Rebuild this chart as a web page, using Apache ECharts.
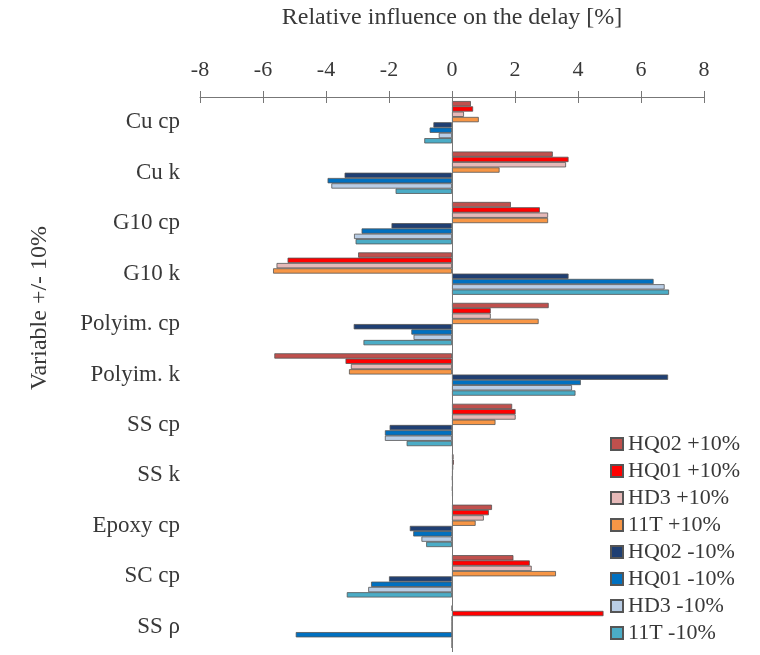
<!DOCTYPE html>
<html>
<head>
<meta charset="utf-8">
<script src="https://cdn.jsdelivr.net/npm/echarts@6/dist/echarts.min.js"></script>
<style>html,body{margin:0;padding:0;background:#fff;}#chart{width:760px;height:655px;}</style>
</head>
<body>
<div id="chart"></div>
<script>
const categories = ['Cu cp','Cu k','G10 cp','G10 k','Polyim. cp','Polyim. k','SS cp','SS k','Epoxy cp','SC cp','SS \u03c1'];
const xTicks = [-8, -6, -4, -2, 0, 2, 4, 6, 8];
const seriesNames = ['HQ02 +10%','HQ01 +10%','HD3 +10%','11T +10%','HQ02 -10%','HQ01 -10%','HD3 -10%','11T -10%'];

const hq02Plus  = [0.60, 3.20, 1.87, -2.98, 3.07, -5.64, 1.91, 0.05, 1.27, 1.95, 0];
const hq01Plus  = [0.67, 3.70, 2.79, -5.22, 1.23, -3.38, 2.02, 0.06, 1.17, 2.47, 4.81];
const hd3Plus   = [0.38, 3.62, 3.05, -5.57, 1.23, -3.21, 2.02, 0.04, 1.01, 2.53, 0];
const t11Plus   = [0.85, 1.51, 3.05, -5.68, 2.75, -3.27, 1.38, 0.03, 0.75, 3.30, 0];
const hq02Minus = [-0.59, -3.41, -1.92, 3.70, -3.12, 6.86, -1.98, 0.02, -1.34, -2.00, 0];
const hq01Minus = [-0.71, -3.95, -2.87, 6.40, -1.29, 4.09, -2.13, 0.03, -1.23, -2.57, -4.96];
const hd3Minus  = [-0.42, -3.83, -3.11, 6.75, -1.22, 3.81, -2.13, 0.02, -0.97, -2.66, 0];
const t11Minus  = [-0.88, -1.79, -3.06, 6.89, -2.81, 3.92, -1.44, 0.03, -0.82, -3.34, 0];

const allData = [hq02Plus, hq01Plus, hd3Plus, t11Plus, hq02Minus, hq01Minus, hd3Minus, t11Minus];
const colors = ['#C0504D','#FF0000','#E6B9B8','#F79646','#1F3F73','#0070C0','#B9CDE5','#4BACC6'];

const FONT = '"Liberation Serif", "Times New Roman", serif';
const TXT = '#383838';

const chart = echarts.init(document.getElementById('chart'), null, {renderer: 'canvas'});

const series = allData.map((d, i) => {
  const s = {
    name: seriesNames[i],
    type: 'bar',
    xAxisIndex: 0,
    yAxisIndex: 0,
    data: d,
    barWidth: 5.3,
    barGap: '0%',
    itemStyle: { color: colors[i], borderColor: '#555', borderWidth: 0.8 },
    emphasis: { disabled: true },
    animation: false
  };
  if (i === 0) {
    s.markLine = {
      silent: true,
      symbol: 'none',
      label: { show: false },
      lineStyle: { color: '#777', type: 'solid', width: 1 },
      data: [{ xAxis: 0 }],
      animation: false
    };
  }
  return s;
});

const option = {
  backgroundColor: '#fff',
  animation: false,
  color: colors,
  grid: { left: 200, right: 56, top: 97, bottom: 3, containLabel: false, outerBoundsMode: 'none' },
  xAxis: [{
    type: 'value',
    position: 'top',
    min: xTicks[0],
    max: xTicks[xTicks.length - 1],
    interval: 2,
    name: 'Relative influence on the delay [%]',
    nameLocation: 'middle',
    nameGap: 67,
    nameTextStyle: { fontFamily: FONT, fontSize: 24, color: TXT },
    axisLine: { show: true, onZero: false, lineStyle: { color: '#777', width: 1 } },
    axisTick: { show: true, inside: false, length: 6, lineStyle: { color: '#777' } },
    axisLabel: { fontFamily: FONT, fontSize: 22, color: TXT, margin: 16 },
    splitLine: { show: false }
  }, {
    type: 'value',
    position: 'top',
    min: xTicks[0],
    max: xTicks[xTicks.length - 1],
    interval: 2,
    axisLine: { show: false, onZero: false },
    axisTick: { show: true, inside: true, length: 6, lineStyle: { color: '#777' } },
    axisLabel: { show: false },
    splitLine: { show: false }
  }],
  yAxis: {
    type: 'category',
    data: categories,
    inverse: true,
    axisLine: { show: false, onZero: false },
    axisTick: { show: false },
    axisLabel: { fontFamily: FONT, fontSize: 23, color: TXT, margin: 20 }
  },
  legend: {
    orient: 'vertical',
    left: 605,
    top: 428,
    itemWidth: 12,
    itemHeight: 12,
    itemGap: 5,
    icon: 'rect',
    textStyle: { fontFamily: FONT, fontSize: 22, color: TXT, lineHeight: 22, padding: [0,0,0,0] },
    data: seriesNames
  },
  graphic: [{
    type: 'text',
    x: 40,
    y: 308,
    rotation: Math.PI / 2,
    style: {
      text: 'Variable +/- 10%',
      fontFamily: FONT,
      fontSize: 24,
      fill: TXT,
      align: 'center',
      verticalAlign: 'middle'
    }
  }],
  series: series
};

chart.setOption(option);
</script>
</body>
</html>
